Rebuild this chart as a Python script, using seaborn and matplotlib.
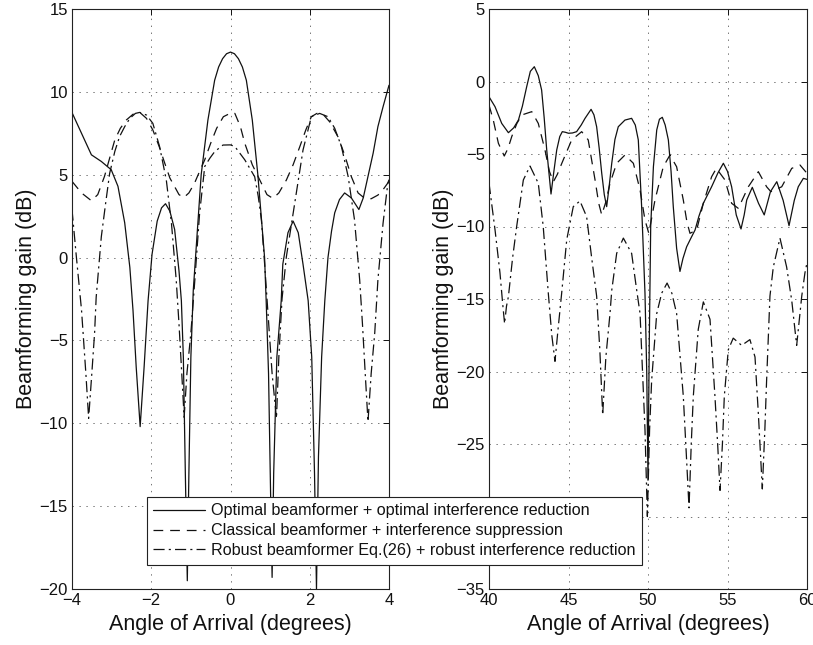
import matplotlib
matplotlib.use("Agg")
import matplotlib.pyplot as plt
import seaborn as sns
import numpy as np

# ---------------- data ----------------
labels = [
    "Optimal beamformer + optimal interference reduction",
    "Classical beamformer + interference suppression",
    "Robust beamformer Eq.(26) + robust interference reduction",
]

# Left panel: angle range -4..4 deg
left_opt_x = [-4.0, -3.76, -3.51, -3.26, -3.01, -2.84, -2.67, -2.54, -2.46, -2.38, -2.28, -2.18,
              -2.08, -1.98, -1.85, -1.74, -1.64, -1.53, -1.41, -1.30, -1.24, -1.19, -1.14, -1.09,
              -1.05, -1.00, -0.94, -0.86, -0.74, -0.57, -0.40, -0.30, -0.20, -0.10, 0.0, 0.10,
              0.20, 0.30, 0.40, 0.55, 0.69,
              0.86, 0.90, 0.96, 1.01, 1.05, 1.09, 1.17, 1.28, 1.32, 1.45, 1.58, 1.71, 1.83, 1.96,
              2.05, 2.12, 2.17, 2.22, 2.30, 2.38, 2.46, 2.55, 2.63, 2.75, 2.88, 3.05, 3.24, 3.35,
              3.47, 3.60, 3.72, 3.85, 4.0]
left_opt_y = [8.75, 7.5, 6.2, 5.8, 5.3, 4.3, 2.1, -0.6, -3.2, -6.6, -10.2, -6.6,
              -2.6, 0.2, 2.2, 3.0, 3.25, 2.8, 1.7, -0.8, -2.6, -6.0, -13.0, -19.5,
              -13.0, -6.0, -2.0, 0.8, 5.0, 8.3, 10.7, 11.5, 12.0, 12.3, 12.4, 12.3,
              12.0, 11.5, 10.7, 8.3, 5.0,
              0.0, -2.6, -7.0, -14.0, -19.3, -13.0, -6.0, -2.6, -0.4, 1.5, 2.2, 1.5, -0.4, -2.6,
              -6.0, -13.0, -20.0, -12.0, -6.0, -2.6, 0.0, 1.6, 2.7, 3.5, 3.9, 3.6, 2.9, 3.6,
              4.9, 6.3, 7.9, 9.1, 10.4]

left_cls_x = [-4.0, -3.76, -3.51, -3.35, -3.18, -3.05, -2.92, -2.78, -2.63, -2.46, -2.29, -2.12,
              -1.96, -1.80, -1.66, -1.53, -1.41, -1.30, -1.18, -1.05, -0.91, -0.78, -0.65, -0.50,
              -0.35, -0.18, 0.03, 0.11, 0.25, 0.36, 0.55, 0.78, 0.92, 1.07, 1.22, 1.41, 1.58, 1.75,
              1.90, 2.04, 2.18, 2.33, 2.50, 2.71, 2.88, 3.05, 3.22, 3.39, 3.55, 3.72, 3.85, 4.0]
left_cls_y = [4.6, 3.9, 3.43, 3.8, 4.9, 6.0, 7.1, 7.8, 8.3, 8.65, 8.76, 8.4,
              7.7, 6.7, 5.7, 4.8, 4.28, 3.8, 3.62, 3.9, 4.48, 5.2, 5.9, 6.9,
              7.8, 8.5, 8.75, 8.7, 7.9, 6.9, 5.6, 4.48, 3.8, 3.57, 3.9, 4.68, 5.6, 6.7,
              7.7, 8.5, 8.7, 8.66, 8.2, 7.3, 6.2, 4.88, 3.9, 3.57, 3.55, 3.77, 4.1, 4.6]

left_rob_x = [-4.0, -3.89, -3.76, -3.72, -3.65, -3.58, -3.50, -3.43, -3.39, -3.26, -3.15, -3.05,
              -2.92, -2.80, -2.67, -2.54, -2.40, -2.29, -2.12, -1.96, -1.79, -1.62, -1.49, -1.37,
              -1.30, -1.23, -1.17, -1.10, -1.00, -0.90, -0.78, -0.65, -0.52, -0.40, -0.19, 0.0,
              0.11, 0.36, 0.61, 0.70, 0.78, 0.86, 0.95, 1.05, 1.16, 1.22, 1.30, 1.41, 1.62, 1.83,
              2.04, 2.25, 2.46, 2.63, 2.80, 2.97, 3.13, 3.26, 3.33, 3.40, 3.47, 3.55, 3.64, 3.72,
              3.85, 3.97, 4.0]
left_rob_y = [2.9, 0.05, -3.16, -4.55, -7.0, -9.7, -7.0, -4.55, -2.4, 1.26, 3.3, 5.08,
              6.4, 7.3, 7.9, 8.4, 8.7, 8.76, 8.6, 8.1, 6.7, 4.68, 2.07, -1.35,
              -4.0, -7.0, -9.64, -7.0, -4.55, -1.35, 2.67, 5.5, 6.0, 6.39, 6.79, 6.8,
              6.7, 5.9, 4.88, 3.7, 2.27, -0.35, -3.5, -7.0, -9.7, -6.0, -2.5, 0.05, 3.27, 6.49,
              8.5, 8.7, 8.5, 7.8, 6.7, 4.88, 2.27, -1.35, -4.0, -7.0, -9.9, -7.0, -4.55, -1.35,
              2.07, 4.48, 4.7]

# Right panel: angle range 40..60 deg
right_opt_x = [40.0, 40.38, 40.8, 41.22, 41.55, 41.85, 42.1, 42.37, 42.6, 42.85, 43.1, 43.31,
               43.47, 43.63, 43.9, 44.08, 44.26, 44.45, 44.61, 44.8, 45.0, 45.25, 45.51, 45.8,
               46.04, 46.42, 46.6, 46.77, 46.93, 47.09, 47.25, 47.40, 47.55, 47.72, 47.92, 48.13,
               48.55, 48.97, 49.2, 49.39, 49.6, 49.81, 49.92, 50.0, 50.08, 50.17, 50.34, 50.55,
               50.72, 50.9, 51.08, 51.28, 51.45, 51.59, 51.8, 52.01, 52.2, 52.43, 52.7, 52.96,
               53.2, 53.48, 54.0, 54.4, 54.74, 55.0, 55.26, 55.55, 55.85, 56.05, 56.21, 56.56,
               56.95, 57.31, 57.7, 58.1, 58.5, 58.87, 59.2, 59.45, 59.77, 60.0]
right_opt_y = [-1.05, -1.74, -2.89, -3.53, -3.2, -2.66, -1.7, -0.36, 0.7, 1.02, 0.4, -0.59,
               -2.5, -4.72, -7.76, -6.2, -4.72, -3.8, -3.46, -3.5, -3.57, -3.55, -3.46, -3.0,
               -2.54, -1.92, -2.3, -3.12, -4.6, -6.33, -7.8, -8.63, -7.3, -5.64, -4.0, -3.12,
               -2.66, -2.54, -3.0, -4.03, -8.63, -14.6, -20.0, -27.5, -18.0, -10.0, -5.88, -3.34,
               -2.6, -2.47, -3.0, -4.03, -6.2, -8.63, -11.5, -13.1, -12.2, -11.4, -10.8, -10.24,
               -9.3, -8.4, -7.26, -6.3, -5.64, -6.2, -7.26, -9.2, -10.17, -9.2, -8.17, -7.3,
               -8.4, -9.2, -7.6, -6.91, -8.2, -9.94, -8.2, -7.26, -6.68, -6.75]

right_cls_x = [40.0, 40.27, 40.59, 40.96, 41.2, 41.43, 41.75, 42.06, 42.69, 43.1, 43.52, 43.8,
               44.05, 44.3, 44.58, 45.2, 45.83, 46.24, 46.67, 46.9, 47.09, 47.35, 47.61, 48.03,
               48.55, 49.08, 49.5, 49.81, 50.05, 50.2, 50.44, 50.96, 51.38, 51.8, 52.22, 52.45,
               52.64, 53.06, 53.48, 54.0, 54.3, 54.84, 55.26, 55.68, 56.31, 56.94, 57.46, 57.73,
               58.41, 59.04, 59.56, 60.0]
right_cls_y = [-1.62, -2.66, -4.26, -5.14, -4.6, -3.8, -2.9, -2.31, -2.08, -2.89, -4.72, -6.2,
               -6.91, -6.4, -5.64, -4.03, -3.46, -4.03, -6.79, -8.4, -9.2, -8.3, -7.02, -5.64,
               -5.07, -5.64, -7.48, -9.55, -10.47, -9.6, -8.17, -5.88, -5.07, -5.88, -8.17, -9.7,
               -10.47, -10.24, -8.4, -6.57, -5.99, -6.79, -8.4, -8.75, -7.26, -6.22, -7.26, -7.6,
               -7.26, -5.99, -5.76, -6.33]

right_rob_x = [40.0, 40.38, 40.69, 40.85, 40.98, 41.1, 41.22, 41.48, 41.74, 42.16, 42.58, 43.1,
               43.41, 43.73, 43.95, 44.15, 44.35, 44.57, 44.89, 45.3, 45.72, 46.14, 46.45, 46.77,
               46.97, 47.15, 47.35, 47.61, 47.72, 48.03, 48.45, 48.97, 49.29, 49.5, 49.81, 49.96,
               50.1, 50.23, 50.55, 50.86, 51.2, 51.5, 51.8, 52.22, 52.4, 52.58, 52.72, 52.85,
               53.16, 53.48, 53.9, 54.21, 54.38, 54.53, 54.68, 54.8, 55.05, 55.36, 55.89, 56.41,
               56.73, 56.94, 57.19, 57.35, 57.46, 57.67, 57.88, 58.3, 58.72, 59.04, 59.35, 59.67,
               59.87, 60.0]
right_rob_y = [-7.0, -10.24, -13.2, -15.2, -16.7, -15.5, -14.84, -12.2, -10.0, -6.79, -5.83, -7.02,
               -10.0, -14.6, -17.5, -19.3, -17.0, -14.6, -10.9, -8.63, -8.24, -9.32, -12.1, -14.8,
               -18.5, -23.0, -19.0, -16.0, -14.4, -11.85, -10.8, -11.85, -14.4, -16.0, -24.0, -30.0,
               -24.0, -20.6, -16.0, -14.6, -13.9, -14.6, -16.0, -21.7, -25.5, -29.4, -25.0, -21.7,
               -17.1, -15.2, -16.4, -21.7, -25.0, -28.2, -25.0, -21.7, -18.5, -17.7, -18.2, -17.8,
               -19.0, -22.9, -28.1, -24.0, -20.6, -14.8, -12.8, -10.8, -12.8, -15.1, -18.2, -14.8,
               -13.2, -12.5]

left_xticks = [-4, -2, 0, 2, 4]
left_yticks = [-20, -15, -10, -5, 0, 5, 10, 15]
right_xticks = [40, 45, 50, 55, 60]
right_yticks = [-35, -30, -25, -20, -15, -10, -5, 0, 5]
# the -30 label of the right panel sits behind the legend in the reference
right_ytick_labels = ["\u221235", "", "\u221225", "\u221220", "\u221215", "\u221210", "\u22125", "0", "5"]

# ---------------- styling ----------------
sns.set_theme(style="white")
plt.rcParams["font.family"] = ["Liberation Sans", "DejaVu Sans"]
plt.rcParams["lines.scale_dashes"] = False

styles = ["-", (0, (7, 5)), (0, (8, 3, 1.5, 3))]

fig = plt.figure(figsize=(8.13, 6.45), dpi=100)
ax1 = fig.add_axes([72 / 813, 1 - 589 / 645, 317 / 813, 580 / 645])
ax2 = fig.add_axes([489 / 813, 1 - 589 / 645, 318 / 813, 580 / 645])

panels = [
    (ax1, [(left_opt_x, left_opt_y), (left_cls_x, left_cls_y), (left_rob_x, left_rob_y)],
     (-4, 4), (-20, 15), left_xticks, left_yticks, None),
    (ax2, [(right_opt_x, right_opt_y), (right_cls_x, right_cls_y), (right_rob_x, right_rob_y)],
     (40, 60), (-35, 5), right_xticks, right_yticks, right_ytick_labels),
]

for ax, series, xl, yl, xt, yt, ylabs in panels:
    for (xs, ys), ls, lab in zip(series, styles, labels):
        sns.lineplot(x=xs, y=ys, ax=ax, color="#111111", linewidth=0.9, linestyle=ls,
                     estimator=None, sort=False, label=lab, legend=False)
    ax.set_xlim(*xl)
    ax.set_ylim(*yl)
    ax.set_xticks(xt)
    ax.set_yticks(yt)
    if ylabs is not None:
        ax.set_yticklabels(ylabs)
    ax.grid(True, linestyle=(0, (1, 4)), color="0.45", linewidth=0.7)
    ax.tick_params(direction="in", top=True, right=True, length=4, width=0.7,
                   labelsize=12, colors="#111111", pad=3)
    for sp in ax.spines.values():
        sp.set_color("#222222")
        sp.set_linewidth(0.8)
    ax.set_xlabel("Angle of Arrival (degrees)", fontsize=15.5, color="#111111", labelpad=4)
    ax.set_ylabel("Beamforming gain (dB)", fontsize=15.5, color="#111111", labelpad=2)

handles, labs = ax1.get_legend_handles_labels()
leg = fig.legend(handles, labs, loc="upper left", bbox_to_anchor=(147 / 813, 1 - 497 / 645),
                 fontsize=11.6, frameon=True, fancybox=False, framealpha=1, edgecolor="#222222",
                 handlelength=3.2, handletextpad=0.35, borderpad=0.4, labelspacing=0.3,
                 borderaxespad=0.0)
leg.get_frame().set_linewidth(0.8)
for t in leg.get_texts():
    t.set_color("#111111")

fig.savefig("out.png", dpi=100)
